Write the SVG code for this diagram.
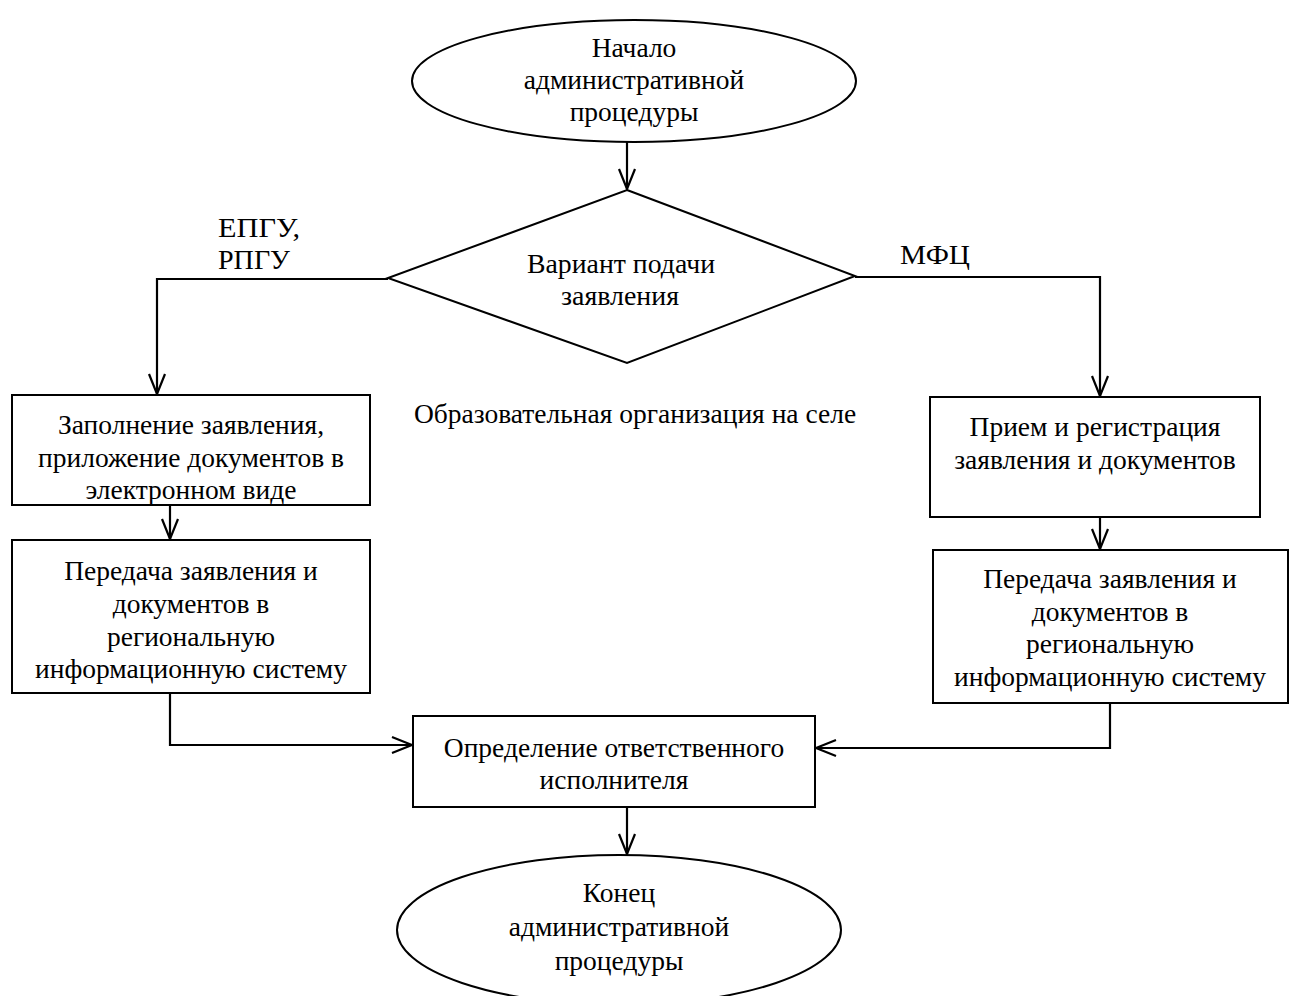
<svg xmlns="http://www.w3.org/2000/svg" width="1295" height="996" viewBox="0 0 1295 996">
<style>
.shape{fill:#fff;stroke:#000;stroke-width:2}
.t{font-family:"Liberation Serif","Times New Roman",serif;font-size:27.5px;fill:#000;text-anchor:middle}
.c{font-family:"Liberation Serif","Times New Roman",serif;font-size:27px;fill:#000}
.conn{fill:none;stroke:#000;stroke-width:2.2}
</style>
<defs>
<marker id="arr" viewBox="0 0 22 22" refX="21" refY="11" markerWidth="22" markerHeight="22" markerUnits="userSpaceOnUse" orient="auto">
<path d="M1,3 L21,11 L1,19" fill="none" stroke="#000" stroke-width="2.2"/>
</marker>
</defs>
<rect width="1295" height="996" fill="#fff"/>
<g id="connectors">
<line class="conn" x1="627" y1="142" x2="627" y2="189" marker-end="url(#arr)"/>
<polyline class="conn" points="388,279 157,279 157,394" marker-end="url(#arr)"/>
<polyline class="conn" points="855,277 1100,277 1100,396" marker-end="url(#arr)"/>
<line class="conn" x1="170" y1="505" x2="170" y2="539" marker-end="url(#arr)"/>
<line class="conn" x1="1100" y1="517" x2="1100" y2="549" marker-end="url(#arr)"/>
<polyline class="conn" points="170,693 170,745 412,745" marker-end="url(#arr)"/>
<polyline class="conn" points="1110,703 1110,748 816,748" marker-end="url(#arr)"/>
<line class="conn" x1="627" y1="807" x2="627" y2="854" marker-end="url(#arr)"/>
</g>
<g id="start">
<ellipse class="shape" cx="634" cy="81" rx="222" ry="61"/>
<text class="t" x="634" y="57">Начало</text>
<text class="t" x="634" y="89">административной</text>
<text class="t" x="634" y="121">процедуры</text>
</g>
<g id="decision">
<polygon class="shape" points="627,190 855,276 627,363 388,278"/>
<text class="c" x="527" y="273" textLength="188" lengthAdjust="spacingAndGlyphs">Вариант подачи</text>
<text class="c" x="561" y="305" textLength="118" lengthAdjust="spacingAndGlyphs">заявления</text>
</g>
<g id="label-epgu">
<text class="c" x="218" y="237" textLength="82" lengthAdjust="spacingAndGlyphs">ЕПГУ,</text>
<text class="c" x="218" y="269" textLength="72" lengthAdjust="spacingAndGlyphs">РПГУ</text>
</g>
<g id="label-mfc">
<text class="c" x="900" y="264" textLength="70" lengthAdjust="spacingAndGlyphs">МФЦ</text>
</g>
<g id="label-org">
<text class="t" x="635" y="423">Образовательная организация на селе</text>
</g>
<g id="left1">
<rect class="shape" x="12" y="395" width="358" height="110"/>
<text class="t" x="191" y="434">Заполнение заявления,</text>
<text class="t" x="191" y="467">приложение документов в</text>
<text class="t" x="191" y="499">электронном виде</text>
</g>
<g id="left2">
<rect class="shape" x="12" y="540" width="358" height="153"/>
<text class="t" x="191" y="580">Передача заявления и</text>
<text class="t" x="191" y="613">документов в</text>
<text class="t" x="191" y="646">региональную</text>
<text class="t" x="191" y="678">информационную систему</text>
</g>
<g id="right1">
<rect class="shape" x="930" y="397" width="330" height="120"/>
<text class="t" x="1095" y="436">Прием и регистрация</text>
<text class="t" x="1095" y="469">заявления и документов</text>
</g>
<g id="right2">
<rect class="shape" x="933" y="550" width="355" height="153"/>
<text class="t" x="1110" y="588">Передача заявления и</text>
<text class="t" x="1110" y="621">документов в</text>
<text class="t" x="1110" y="653">региональную</text>
<text class="t" x="1110" y="686">информационную систему</text>
</g>
<g id="assign">
<rect class="shape" x="413" y="716" width="402" height="91"/>
<text class="t" x="614" y="757">Определение ответственного</text>
<text class="t" x="614" y="789">исполнителя</text>
</g>
<g id="end">
<ellipse class="shape" cx="619" cy="930" rx="222" ry="75"/>
<text class="t" x="619" y="902">Конец</text>
<text class="t" x="619" y="936">административной</text>
<text class="t" x="619" y="970">процедуры</text>
</g>
</svg>
